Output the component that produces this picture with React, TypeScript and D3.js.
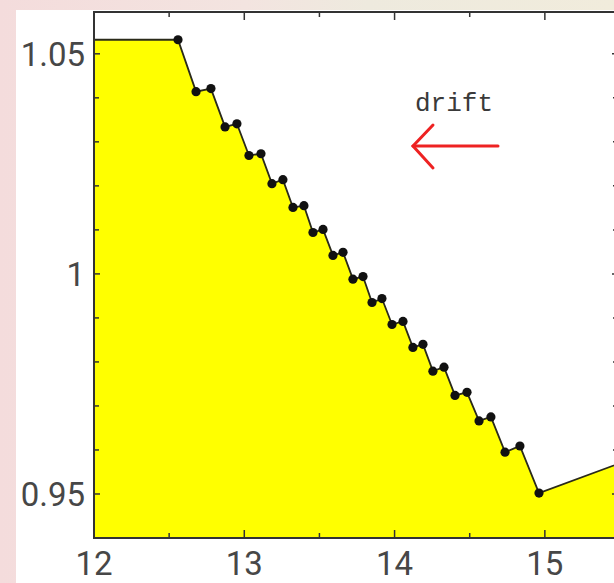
import React, { useEffect, useRef } from "react";
import * as d3 from "d3";

// positions along the scan and the measured value at each step
const driftX = [
  12.0, 12.559, 12.679, 12.778, 12.872, 12.951, 13.031, 13.111, 13.184, 13.257,
  13.324, 13.397, 13.457, 13.524, 13.59, 13.657, 13.723, 13.79, 13.85, 13.916,
  13.983, 14.056, 14.122, 14.189, 14.255, 14.329, 14.402, 14.482, 14.562,
  14.641, 14.735, 14.834, 14.961, 15.5,
];
const driftY = [
  1.0532, 1.0532, 1.0414, 1.0421, 1.0334, 1.0341, 1.0269, 1.0273, 1.0205,
  1.0214, 1.0151, 1.0155, 1.0094, 1.0101, 1.0042, 1.0049, 0.9988, 0.9994,
  0.9935, 0.9944, 0.9885, 0.9892, 0.9833, 0.984, 0.9779, 0.9788, 0.9724,
  0.9731, 0.9666, 0.9675, 0.9595, 0.9609, 0.9502, 0.957,
];
// the first sample is the left edge of the flat run, not a marker
const markerStart = 1;

const xTickLabels = [12, 13, 14, 15];
const xMinorTicks = [12.5, 13.5, 14.5, 15.5];
const yTickLabels = [0.95, 1, 1.05];
const yMinorTicks = [0.94, 0.96, 0.97, 0.98, 0.99, 1.01, 1.02, 1.03, 1.04];
const annotation = "drift";

const width = 614;
const height = 583;

const App = () => {
  const ref = useRef<SVGSVGElement>(null);

  useEffect(() => {
    const svg = d3.select(ref.current);
    svg.selectAll("*").remove();

    const left = 94;
    const right = 620;
    const top = 12;
    const bottom = 538;

    const x = d3.scaleLinear().domain([12, 15.5]).range([left, right]);
    const y = d3.scaleLinear().domain([0.94, 1.0595]).range([bottom, top]);

    const data = driftX.map((d, i) => ({ x: d, y: driftY[i] }));

    // page background: slide texture with a white panel on it
    const defs = svg.append("defs");
    const grad = defs
      .append("linearGradient")
      .attr("id", "bg")
      .attr("x1", "0")
      .attr("x2", "1")
      .attr("y1", "0")
      .attr("y2", "0");
    grad.append("stop").attr("offset", "0").attr("stop-color", "#f4dcdc");
    grad.append("stop").attr("offset", "0.4").attr("stop-color", "#f3e4e0");
    grad.append("stop").attr("offset", "0.6").attr("stop-color", "#eeeade");
    grad.append("stop").attr("offset", "1").attr("stop-color", "#f1ecdc");

    defs
      .append("clipPath")
      .attr("id", "plot-clip")
      .append("rect")
      .attr("x", left)
      .attr("y", top)
      .attr("width", right - left)
      .attr("height", bottom - top);

    svg
      .append("rect")
      .attr("width", width)
      .attr("height", height)
      .attr("fill", "url(#bg)");
    svg
      .append("rect")
      .attr("x", 16)
      .attr("y", 10)
      .attr("width", width - 16)
      .attr("height", height - 10)
      .attr("fill", "#ffffff");

    const plot = svg.append("g").attr("clip-path", "url(#plot-clip)");

    const area = d3
      .area<{ x: number; y: number }>()
      .x((d) => x(d.x))
      .y0(bottom)
      .y1((d) => y(d.y));

    const line = d3
      .line<{ x: number; y: number }>()
      .x((d) => x(d.x))
      .y((d) => y(d.y));

    plot.append("path").datum(data).attr("d", area).attr("fill", "#ffff00");

    plot
      .append("path")
      .datum(data)
      .attr("d", line)
      .attr("fill", "none")
      .attr("stroke", "#2a2a1a")
      .attr("stroke-width", 1.8);

    plot
      .selectAll("circle.pt")
      .data(data.slice(markerStart))
      .enter()
      .append("circle")
      .attr("class", "pt")
      .attr("cx", (d) => x(d.x))
      .attr("cy", (d) => y(d.y))
      .attr("r", 4.6)
      .attr("fill", "#111");

    // ticks, pointing inward on all four sides
    const tickColor = "#333";
    const allX = [
      ...xTickLabels.map((v) => ({ v, len: 8 })),
      ...xMinorTicks.map((v) => ({ v, len: 5 })),
    ];
    allX.forEach((t) => {
      svg
        .append("line")
        .attr("x1", x(t.v))
        .attr("x2", x(t.v))
        .attr("y1", bottom)
        .attr("y2", bottom - t.len)
        .attr("stroke", tickColor)
        .attr("stroke-width", 1.5);
      svg
        .append("line")
        .attr("x1", x(t.v))
        .attr("x2", x(t.v))
        .attr("y1", top)
        .attr("y2", top + t.len)
        .attr("stroke", tickColor)
        .attr("stroke-width", 1.5);
    });

    const allY = [
      ...yTickLabels.map((v) => ({ v, len: 6 })),
      ...yMinorTicks.map((v) => ({ v, len: 5 })),
    ];
    allY.forEach((t) => {
      svg
        .append("line")
        .attr("x1", left)
        .attr("x2", left + t.len)
        .attr("y1", y(t.v))
        .attr("y2", y(t.v))
        .attr("stroke", tickColor)
        .attr("stroke-width", 1.5);
      svg
        .append("line")
        .attr("x1", right)
        .attr("x2", right - t.len - 2)
        .attr("y1", y(t.v))
        .attr("y2", y(t.v))
        .attr("stroke", tickColor)
        .attr("stroke-width", 1.5);
    });

    // frame
    svg
      .append("rect")
      .attr("x", left)
      .attr("y", top)
      .attr("width", right - left)
      .attr("height", bottom - top)
      .attr("fill", "none")
      .attr("stroke", "#333")
      .attr("stroke-width", 2);

    const labelFont = "Roboto, 'Liberation Sans', sans-serif";

    svg
      .selectAll("text.xl")
      .data(xTickLabels)
      .enter()
      .append("text")
      .attr("class", "xl")
      .attr("x", (d) => x(d))
      .attr("y", 575)
      .attr("text-anchor", "middle")
      .attr("font-family", labelFont)
      .attr("font-size", 33)
      .attr("fill", "#474747")
      .text((d) => d);

    svg
      .selectAll("text.yl")
      .data(yTickLabels)
      .enter()
      .append("text")
      .attr("class", "yl")
      .attr("x", left - 9)
      .attr("y", (d) => y(d))
      .attr("dy", "0.36em")
      .attr("text-anchor", "end")
      .attr("font-family", labelFont)
      .attr("font-size", 33)
      .attr("fill", "#474747")
      .text((d) => d3.format("~g")(d));

    // annotation: drift direction
    svg
      .append("text")
      .attr("x", 415)
      .attr("y", 111)
      .attr("font-family", "'Liberation Mono', 'DejaVu Sans Mono', monospace")
      .attr("font-size", 26)
      .attr("fill", "#3a3a3a")
      .text(annotation);

    const arrow = svg
      .append("g")
      .attr("stroke", "#ee2222")
      .attr("stroke-width", 3)
      .attr("fill", "none")
      .attr("stroke-linecap", "round");
    arrow.append("line").attr("x1", 413).attr("y1", 146).attr("x2", 498).attr("y2", 146);
    arrow.append("path").attr("d", "M433,125 L413,146 L433,168");
  }, []);

  return (
    <svg
      ref={ref}
      width={width}
      height={height}
      style={{ position: "absolute", left: 0, top: 0 }}
    />
  );
};

export default App;
